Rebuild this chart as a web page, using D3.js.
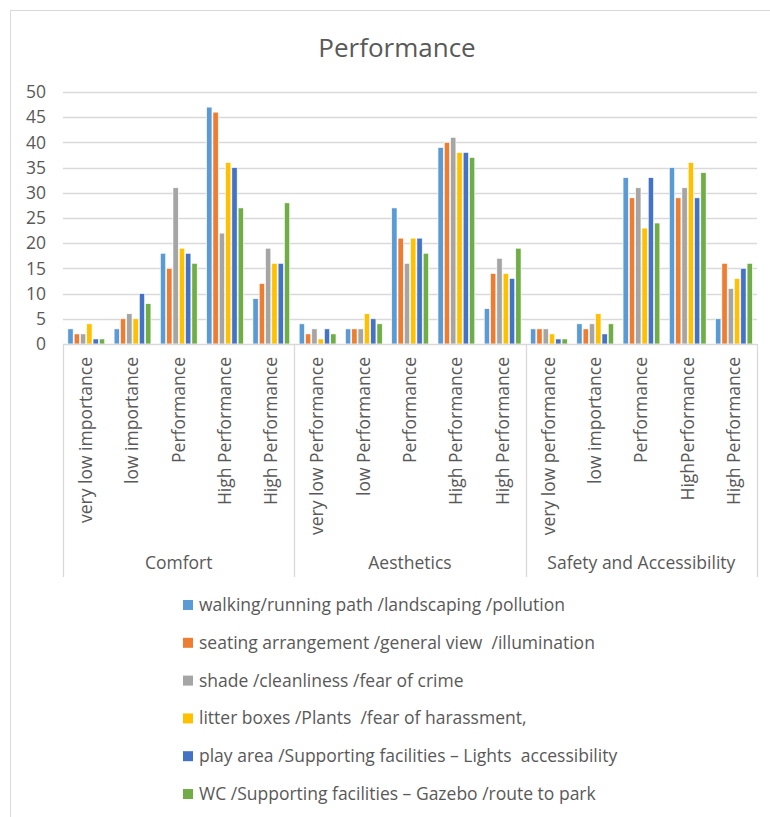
<!DOCTYPE html>
<html>
<head>
<meta charset="utf-8">
<script src="https://cdn.jsdelivr.net/npm/d3@7"></script>
<style>
  html, body { margin: 0; padding: 0; background: #fff; }
  svg text { font-family: "Open Sans", "Noto Sans", sans-serif; fill: #595959; white-space: pre; }
</style>
</head>
<body>
<svg id="chart" width="770" height="817"></svg>
<script>
// Groups and their sub-categories
const groups = ["Comfort", "Aesthetics", "Safety and Accessibility"];
const subCategories = [
  ["very low importance", "low importance", "Performance", "High Performance", "High Performance"],
  ["very low Performance", "low Performance", "Performance", "High Performance", "High Performance"],
  ["very low performance", "low importance", "Performance", "HighPerformance", "High Performance"]
];

// Series names
const seriesNames = [
  "walking/running path /landscaping /pollution",
  "seating arrangement /general view  /illumination",
  "shade /cleanliness /fear of crime",
  "litter boxes /Plants  /fear of harassment,",
  "play area /Supporting facilities \u2013 Lights  accessibility",
  "WC /Supporting facilities \u2013 Gazebo /route to park"
];
const seriesColors = ["#5B9BD5", "#ED7D31", "#A5A5A5", "#FFC000", "#4472C4", "#70AD47"];

// Values per series, 15 categories each (5 per group)
const walkingPath   = [3, 3, 18, 47, 9,   4, 3, 27, 39, 7,   3, 4, 33, 35, 5];
const seating       = [2, 5, 15, 46, 12,  2, 3, 21, 40, 14,  3, 3, 29, 29, 16];
const shade         = [2, 6, 31, 22, 19,  3, 3, 16, 41, 17,  3, 4, 31, 31, 11];
const litterBoxes   = [4, 5, 19, 36, 16,  1, 6, 21, 38, 14,  2, 6, 23, 36, 13];
const playArea      = [1, 10, 18, 35, 16, 3, 5, 21, 38, 13,  1, 2, 33, 29, 15];
const wc            = [1, 8, 16, 27, 28,  2, 4, 18, 37, 19,  1, 4, 24, 34, 16];
const seriesValues = [walkingPath, seating, shade, litterBoxes, playArea, wc];

const yTicks = [0, 5, 10, 15, 20, 25, 30, 35, 40, 45, 50];

const svg = d3.select("#chart");
const W = 770, H = 817;

// Chart frame
svg.append("rect")
  .attr("x", 10.5).attr("y", 10.5)
  .attr("width", W + 20).attr("height", H + 20)
  .attr("fill", "#fff").attr("stroke", "#d9d9d9").attr("stroke-width", 1);

const plot = { left: 63, right: 757, top: 92, bottom: 344 };

const y = d3.scaleLinear().domain([0, 50]).range([plot.bottom, plot.top]);

const catIndex = d3.range(15);
const x = d3.scaleBand().domain(catIndex).range([plot.left, plot.right]).padding(0);
const xs = d3.scaleBand().domain(d3.range(6))
  .range([x.bandwidth() * 0.105, x.bandwidth() * 0.9]).paddingInner(0.16).paddingOuter(0);

// Title
svg.append("text")
  .attr("x", 397).attr("y", 57)
  .attr("text-anchor", "middle")
  .style("font-size", "26px")
  .text("Performance");

// Gridlines
svg.append("g")
  .selectAll("line")
  .data(yTicks.filter(d => d > 0))
  .join("line")
  .attr("x1", plot.left).attr("x2", plot.right)
  .attr("y1", d => Math.round(y(d)) + 0.5).attr("y2", d => Math.round(y(d)) + 0.5)
  .attr("stroke", "#d9d9d9").attr("stroke-width", 1.3);

// Y axis labels
const yAxis = d3.axisLeft(y).tickValues(yTicks).tickSize(0).tickPadding(0);
const yg = svg.append("g").attr("transform", `translate(${plot.left - 17},0)`).call(yAxis);
yg.select(".domain").remove();
yg.selectAll("text")
  .style("font-size", "17.5px")
  .style("font-family", "'Open Sans', sans-serif")
  .attr("fill", "#595959");

// Bars
const barData = [];
seriesValues.forEach((vals, s) => {
  vals.forEach((v, c) => barData.push({ s, c, v }));
});
svg.append("g")
  .selectAll("rect")
  .data(barData)
  .join("rect")
  .attr("x", d => x(d.c) + xs(d.s))
  .attr("width", xs.bandwidth())
  .attr("y", d => y(d.v))
  .attr("height", d => y(0) - y(d.v))
  .attr("fill", d => seriesColors[d.s])
  .attr("stroke", "#fff").attr("stroke-width", 0.6);

// Category axis: baseline and separators
svg.append("line")
  .attr("x1", plot.left).attr("x2", plot.right)
  .attr("y1", plot.bottom + 0.5).attr("y2", plot.bottom + 0.5)
  .attr("stroke", "#d9d9d9").attr("stroke-width", 1.3);

const sepX = [0, 5, 10].map(i => x(i)).concat([plot.right]);
svg.append("g")
  .selectAll("line")
  .data(sepX)
  .join("line")
  .attr("x1", d => Math.round(d) + 0.5).attr("x2", d => Math.round(d) + 0.5)
  .attr("y1", plot.bottom).attr("y2", 577)
  .attr("stroke", "#d9d9d9").attr("stroke-width", 1.3);

// Sub-category labels (rotated)
const subLabels = [];
subCategories.forEach((arr, g) => arr.forEach((t, i) => subLabels.push({ c: g * 5 + i, t })));
svg.append("g")
  .selectAll("text")
  .data(subLabels)
  .join("text")
  .attr("transform", d => `translate(${x(d.c) + x.bandwidth() / 2 + 6},357) rotate(-90)`)
  .attr("text-anchor", "end")
  .style("font-size", "17.5px")
  .text(d => d.t);

// Group labels
svg.append("g")
  .selectAll("text")
  .data(groups)
  .join("text")
  .attr("x", (d, i) => (x(i * 5) + (i === 2 ? plot.right : x(i * 5 + 5))) / 2)
  .attr("y", 569)
  .attr("text-anchor", "middle")
  .style("font-size", "17.5px")
  .text(d => d);

// Legend
const legend = svg.append("g")
  .selectAll("g")
  .data(seriesNames)
  .join("g")
  .attr("transform", (d, i) => `translate(183,${605 + i * 37.8})`);
legend.append("rect")
  .attr("x", 0).attr("y", -5).attr("width", 10).attr("height", 10)
  .attr("fill", (d, i) => seriesColors[i]);
legend.append("text")
  .attr("x", 16).attr("y", 6)
  .style("font-size", "17.5px")
  .text(d => d);
</script>
</body>
</html>
